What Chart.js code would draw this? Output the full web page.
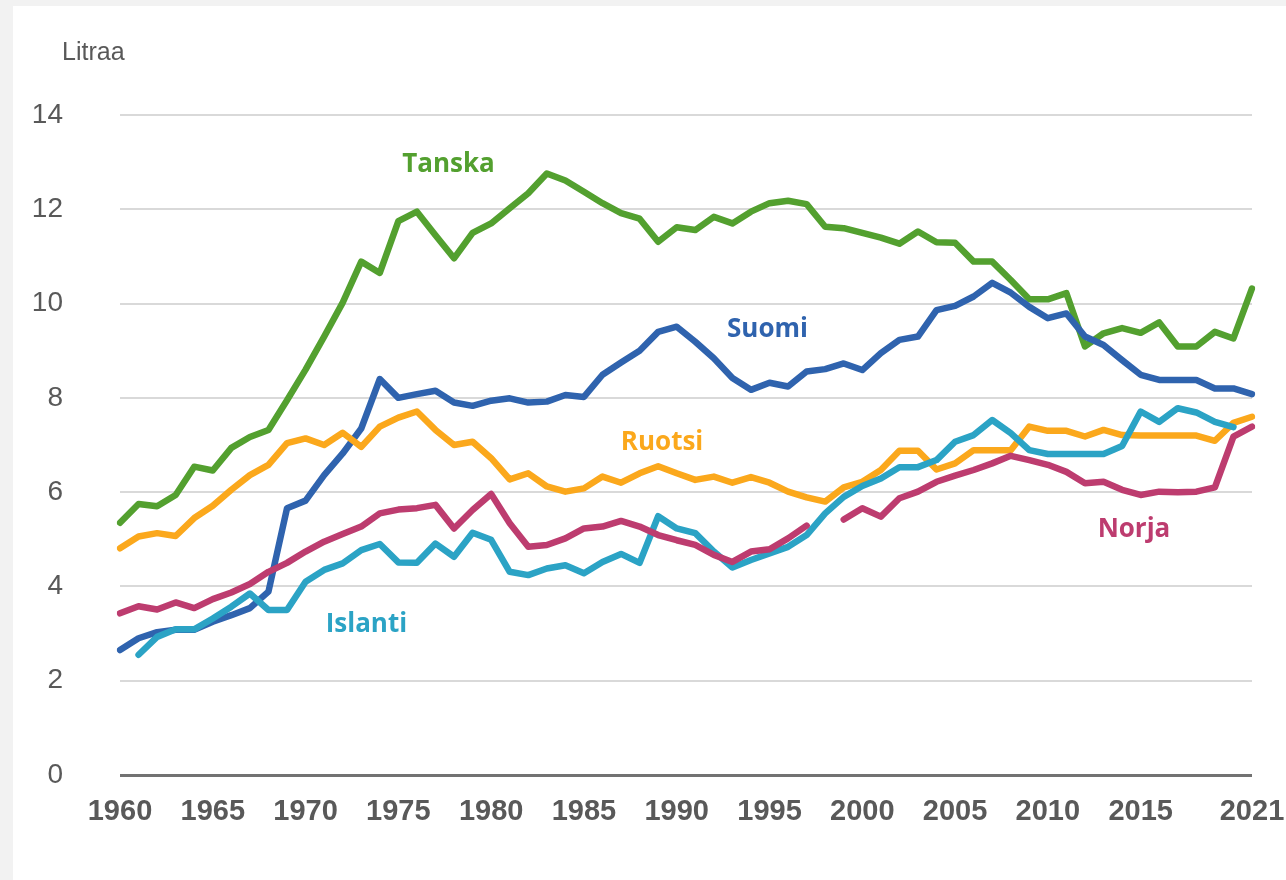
<!DOCTYPE html>
<html>
<head>
<meta charset="utf-8">
<script src="https://cdn.jsdelivr.net/npm/chart.js@4.4.1/dist/chart.umd.min.js"></script>
<style>
  html, body { margin: 0; padding: 0; background: #f2f2f2; width: 1286px; height: 880px; overflow: hidden; }
  #card { position: absolute; left: 13px; top: 6px; width: 1273px; height: 874px; background: #ffffff; }
  canvas { display: block; }
</style>
</head>
<body>
<div id="card"><canvas id="c" width="1273" height="874"></canvas></div>
<script>
// ---- Data ----
const years = [];
for (let y = 1960; y <= 2021; y++) years.push(y);

const xTickYears = [1960, 1965, 1970, 1975, 1980, 1985, 1990, 1995, 2000, 2005, 2010, 2015, 2021];
const yTicks = [0, 2, 4, 6, 8, 10, 12, 14];

const tanska = [5.35,5.75,5.7,5.94,6.54,6.46,6.94,7.17,7.32,7.95,
  8.6,9.3,10.02,10.89,10.65,11.75,11.95,11.45,10.96,11.5,
  11.7,12.02,12.34,12.76,12.61,12.37,12.13,11.92,11.8,11.31,
  11.62,11.56,11.84,11.7,11.95,12.13,12.18,12.11,11.63,11.6,
  11.5,11.4,11.27,11.53,11.3,11.29,10.89,10.89,10.5,10.09,
  10.09,10.22,9.09,9.37,9.48,9.38,9.6,9.09,9.09,9.4,
  9.26,10.32];

const suomi = [2.65,2.9,3.03,3.08,3.08,3.25,3.39,3.54,3.89,5.66,
  5.82,6.36,6.82,7.35,8.4,8.0,8.08,8.15,7.9,7.83,
  7.94,7.99,7.9,7.92,8.06,8.02,8.49,8.75,9.0,9.4,
  9.51,9.19,8.84,8.42,8.17,8.32,8.24,8.56,8.61,8.73,
  8.59,8.95,9.23,9.3,9.86,9.95,10.15,10.44,10.23,9.93,
  9.69,9.79,9.3,9.12,8.8,8.49,8.38,8.38,8.38,8.2,
  8.2,8.08];

const ruotsi = [4.81,5.06,5.13,5.07,5.45,5.71,6.05,6.36,6.58,7.04,
  7.14,7.0,7.26,6.96,7.39,7.58,7.71,7.32,7.0,7.07,
  6.72,6.27,6.4,6.12,6.01,6.08,6.33,6.2,6.4,6.55,
  6.4,6.26,6.33,6.2,6.32,6.2,6.01,5.89,5.8,6.1,
  6.22,6.47,6.88,6.88,6.48,6.61,6.89,6.89,6.89,7.39,
  7.3,7.3,7.18,7.32,7.21,7.2,7.2,7.2,7.2,7.09,
  7.47,7.6];

const norja = [3.43,3.58,3.51,3.66,3.54,3.73,3.87,4.05,4.31,4.5,
  4.74,4.95,5.11,5.27,5.55,5.63,5.66,5.73,5.23,5.62,
  5.96,5.34,4.84,4.88,5.02,5.23,5.27,5.39,5.27,5.09,
  4.98,4.88,4.67,4.52,4.74,4.79,5.02,5.29,null,5.42,
  5.66,5.48,5.87,6.01,6.22,6.35,6.47,6.61,6.77,6.68,
  6.58,6.43,6.19,6.22,6.05,5.94,6.01,6.0,6.01,6.1,
  7.18,7.39];

const islanti = [null,2.55,2.93,3.09,3.09,3.32,3.57,3.85,3.5,3.5,
  4.1,4.35,4.49,4.77,4.9,4.51,4.5,4.91,4.63,5.14,
  4.99,4.31,4.24,4.38,4.45,4.28,4.52,4.69,4.5,5.49,
  5.23,5.13,4.74,4.4,4.56,4.7,4.84,5.09,5.55,5.9,
  6.13,6.29,6.53,6.53,6.68,7.07,7.21,7.53,7.25,6.89,
  6.81,6.81,6.81,6.81,6.98,7.71,7.49,7.78,7.69,7.49,
  7.38,null];

const seriesNames = ["Norja", "Islanti", "Ruotsi", "Suomi", "Tanska"];
const seriesData = [norja, islanti, ruotsi, suomi, tanska];
const seriesColors = ["#bd3c6f", "#2ba3c5", "#fba81c", "#2f63ae", "#53a02f"];

// Label anchors in data units (year, value at text baseline)
const labelYear = [2014.64, 1973.28, 1989.21, 1994.89, 1977.70];
const labelValue = [5.05, 3.03, 6.89, 9.29, 12.79];

const unitTitle = "Litraa";

// ---- Chart ----
const TEXT = "#595959";

const labelPlugin = {
  id: 'seriesLabels',
  afterDatasetsDraw(chart) {
    const ctx = chart.ctx;
    const xs = chart.scales.x, ys = chart.scales.y;
    ctx.save();
    ctx.font = 'bold 26px "Open Sans"';
    ctx.textAlign = 'center';
    ctx.textBaseline = 'alphabetic';
    seriesNames.forEach((name, i) => {
      const px = xs.getPixelForValue(labelYear[i] - years[0]);
      const py = ys.getPixelForValue(labelValue[i]);
      ctx.fillStyle = seriesColors[i];
      ctx.fillText(name, px, py);
    });
    // unit title
    ctx.font = '25px "Liberation Sans"';
    ctx.fillStyle = TEXT;
    ctx.textAlign = 'left';
    ctx.fillText(unitTitle, 49, 54);
    ctx.restore();
  }
};

new Chart(document.getElementById('c'), {
  type: 'line',
  data: {
    labels: years,
    datasets: seriesNames.map((n, i) => ({
      label: n,
      data: seriesData[i],
      borderColor: seriesColors[i],
      backgroundColor: seriesColors[i],
      borderWidth: 6.5,
      pointRadius: 0,
      pointHoverRadius: 0,
      tension: 0,
      spanGaps: false,
      borderJoinStyle: 'round',
      borderCapStyle: 'round',
      fill: false
    }))
  },
  options: {
    responsive: false,
    animation: false,
    events: [],
    layout: { padding: { left: 0, top: 109, right: 34, bottom: 45 } },
    plugins: { legend: { display: false }, tooltip: { enabled: false }, title: { display: false } },
    scales: {
      x: {
        type: 'category',
        grid: { display: false, drawTicks: false },
        border: { display: false },
        ticks: {
          autoSkip: false,
          maxRotation: 0,
          minRotation: 0,
          padding: 20,
          color: TEXT,
          font: { family: '"Liberation Sans"', size: 29, weight: 'bold' },
          callback: function(val, idx) {
            const yr = years[idx];
            return xTickYears.includes(yr) ? String(yr) : '';
          }
        },
        afterFit(scale) {
          scale.height = 60;
          scale.paddingLeft = 0;
          scale.paddingRight = 0;
        }
      },
      y: {
        min: 0,
        max: 14,
        afterBuildTicks(scale) { scale.ticks = yTicks.map(v => ({ value: v })); },
        grid: {
          drawTicks: false,
          color: c => (c.tick && c.tick.value === 0) ? '#727272' : '#d9d9d9',
          lineWidth: c => (c.tick && c.tick.value === 0) ? 3 : 2
        },
        border: { display: false },
        ticks: {
          padding: 57,
          color: TEXT,
          font: { family: '"Liberation Sans"', size: 28 }
        },
        afterFit(scale) {
          scale.width = 107;
          scale.paddingTop = 0;
          scale.paddingBottom = 0;
        }
      }
    }
  },
  plugins: [labelPlugin]
});
</script>
</body>
</html>
